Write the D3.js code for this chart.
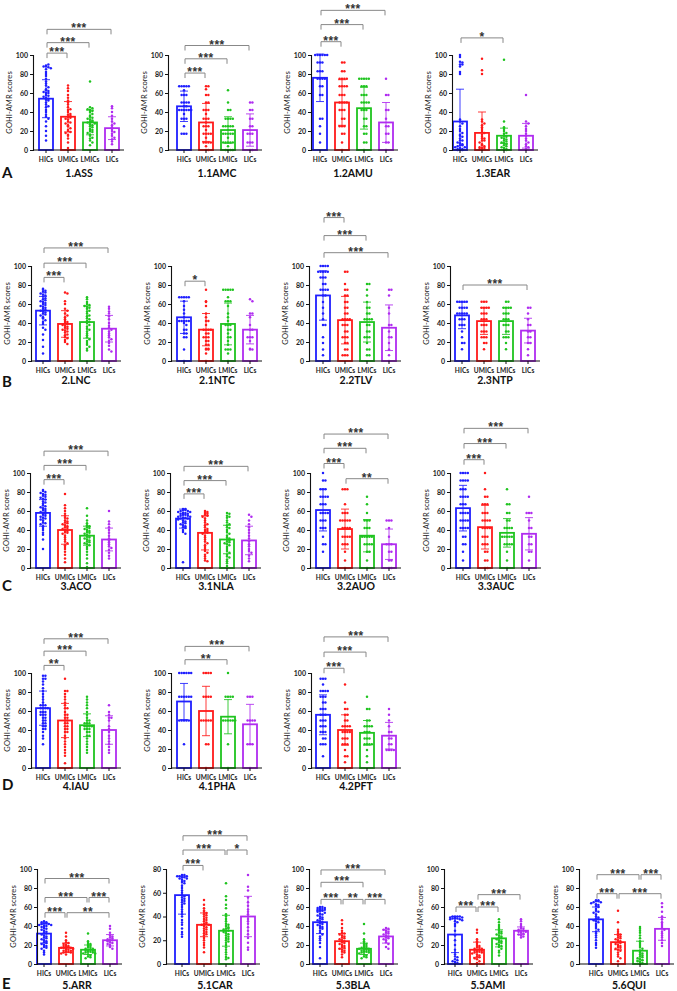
<!DOCTYPE html>
<html><head><meta charset="utf-8">
<script src="https://cdn.jsdelivr.net/npm/d3@7"></script>
<style>body{margin:0;background:#fff}svg{display:block}</style>
</head><body><svg id="c" width="677" height="991"></svg>
<script>
const titles = ["1.ASS","1.1AMC","1.2AMU","1.3EAR","2.LNC","2.1NTC","2.2TLV","2.3NTP","3.ACO","3.1NLA","3.2AUO","3.3AUC","4.IAU","4.1PHA","4.2PFT","5.ARR","5.1CAR","5.3BLA","5.5AMI","5.6QUI"];
const groups = ["HICs","UMICs","LMICs","LICs"];
const colors = ["#1f1fff","#ff1a1a","#1fc41f","#b02cf0"];
const rowLetters = ["A","B","C","D","E"];
const yTicks100 = [0,20,40,60,80,100];
const yTicks80 = [0,20,40,60,80];
const yMax = [100,100,100,100,100,100,100,100,100,100,100,100,100,100,100,100,80,100,100,100];
const means = [[54,35,29,23],[46,29,21,21],[76,50,44,29],[30,18,15,15],[53,39,41,34],[46,33,39,33],[69,43,41,35],[48,42,42,32],[58,40,34,30],[52,37,30,29],[61,41,34,25],[63,43,37,36],[63,50,45,40],[70,60,54,46],[56,40,37,34],[32,17,15,25],[58,33,28,40],[44,24,16,29],[31,15,27,35],[47,23,14,37]];
const sds = [[20,16,13,12],[16,20,14,17],[25,24,22,21],[34,22,8,13],[15,14,17,14],[17,17,22,15],[26,25,21,24],[14,14,14,13],[14,15,10,12],[10,18,15,15],[22,21,17,16],[24,23,15,17],[18,18,12,15],[19,26,18,21],[21,16,13,14],[10,5,5,6],[16,10,13,17],[12,8,6,7],[19,8,9,4],[13,8,10,12]];
const ptsHICs = [
[89,88,87,88,90,86,85,82,80,78,75,72,70,68,66,64,63,62,61,60,60,58,57,56,55,54,53,52,50,48,46,45,42,40,37,35,33,30,25,20,15,10],
[67,67,67,67,67,63,58,58,58,50,50,50,50,46,46,42,42,42,42,42,42,38,33,33,33,25,17,17,17],
[100,100,100,100,100,100,92,92,92,83,83,83,75,75,75,75,67,67,58,58,33,33,25,17,8],
[100,98,93,92,90,90,88,82,80,32,30,28,25,22,20,18,16,15,14,12,10,10,8,7,6,5,5,4,3,3,2,1,1,0,0,0],
[76,75,74,73,72,71,70,69,68,66,65,64,63,62,61,60,59,58,57,56,55,54,53,52,51,50,49,48,46,45,43,41,39,35,33,28,22,15,8],
[67,67,67,67,67,63,58,54,50,46,42,42,42,42,42,40,38,33,33,29,29,25,25,12,0],
[100,100,100,100,94,94,94,94,94,88,88,88,81,81,75,75,75,75,69,69,62,56,50,44,38,38,25,19,12,6],
[62.5,62.5,62.5,62.5,62.5,56,56,56,56,50,50,50,50,50,44,44,44,38,38,38,31,25,19,19,12.5],
[82,81,80,79,78,77,76,75,74,73,72,70,69,68,66,65,64,63,62,61,60,59,58,57,56,55,54,53,52,51,50,48,47,46,44,42,40,37,35,30,20],
[62,62,61,61,60,60,59,59,58,58,57,57,56,56,55,55,54,54,53,53,52,52,51,50,49,48,47,46,45,44,43,42,40,38,36,6],
[100,92,92,83,83,83,75,75,75,75,67,67,67,58,58,58,58,50,50,50,42,42,42,33,25,25,17],
[100,100,100,100,92,92,92,92,83,83,83,75,75,75,75,67,67,67,58,58,58,58,50,50,50,50,42,42,42,42,33,33,25,25,17,8],
[97,97,94,94,91,88,84,81,78,75,72,69,66,66,66,63,63,63,63,59,59,59,56,56,56,53,53,50,50,47,47,44,44,41,41,38,34,31,25],
[100,100,100,100,100,100,75,75,75,75,75,75,50,50,50,50,50,25],
[94,94,94,88,81,81,81,81,75,75,75,69,69,62,62,62,56,56,56,50,50,50,44,44,44,38,38,38,31,31,25,25,25,12.5],
[45,44,44,43,43,42,42,41,41,40,40,39,38,37,36,35,34,33,32,31,30,29,28,27,26,25,24,23,22,21,20,19,18,17,16,14,12,10],
[75,75,74,74,74,73,73,72,72,71,70,69,68,66,64,62,60,58,57,56,55,54,53,52,51,50,48,46,44,42,40,37,35,33,30,27,25,23],
[60,60,59,59,58,58,57,57,56,56,55,54,53,52,51,50,49,48,47,46,45,44,43,42,41,40,39,38,37,35,33,31,29,27,25,22,18,6],
[50,50,50,50,49,49,49,48,48,48,47,47,46,45,44,42,40,35,30,25,20,15,12,10,8,7,5,4,3,2,1,0],
[67,67,66,66,65,65,64,63,62,61,60,58,56,55,54,52,50,49,48,47,46,45,44,42,40,38,36,34,32,30,28,25,22,20,17]
];
const ptsUMICs = [
[68,65,62,58,55,52,50,48,45,43,42,40,38,37,36,35,34,33,32,30,29,28,26,25,23,21,20,19,18,16,15,12,8,2],
[67,67,64,58,58,50,50,42,42,42,38,33,33,33,29,25,25,25,21,17,17,17,17,13,8,8,8,8,4,0,0],
[92,92,83,83,75,75,75,75,67,67,67,67,58,58,58,50,50,50,50,42,42,42,33,33,25,25,25,17,17,8,0],
[96,84,80,32,30,28,26,24,22,20,18,16,14,12,12,10,10,8,6,5,4,3,2,2,1,0],
[72,71,63,60,55,53,50,48,46,44,42,41,40,39,38,37,36,35,34,33,32,31,30,28,27,25,24,22,20,18],
[75,63,62,58,50,46,42,42,38,33,33,33,33,29,29,25,25,25,21,21,17,17,13,13,12,12,8,0],
[94,94,81,75,75,69,69,62,62,56,56,50,50,44,44,44,44,38,38,38,31,31,25,25,25,19,19,12,12,6,6,6],
[62.5,62.5,62.5,56,56,56,56,50,50,50,44,44,44,38,38,38,31,31,31,25,25,25,19,19,12.5],
[78,66,63,60,57,55,53,52,50,49,48,47,46,45,44,43,42,41,40,39,38,37,36,34,32,30,28,26,24,22,20,17,14,10,6],
[60,59,58,57,56,55,54,52,50,48,46,45,43,41,40,39,38,37,36,34,32,30,28,26,24,22,20,18,16,14,12,10,8,7],
[83,83,83,67,58,58,58,50,50,50,50,50,42,42,42,42,33,33,33,33,25,25,25,17,8,0],
[100,83,75,75,67,67,67,58,58,58,50,50,50,50,42,42,42,42,33,33,33,25,25,25,17,17,8,8,0,0],
[94,81,81,78,75,72,69,66,63,63,59,56,56,53,53,50,50,47,47,44,44,41,41,38,38,34,31,28,25,22,19,16,13,5],
[100,100,100,100,75,75,75,75,50,50,50,50,50,25,25,0],
[88,69,62,62,56,56,50,50,44,44,44,44,38,38,38,38,31,31,31,25,25,25,19,12.5,12.5,6],
[33,29,25,23,22,21,20,19,19,18,18,17,17,17,16,16,15,15,14,14,13,13,12,12,11,10],
[54,50,47,45,44,43,42,41,40,39,38,37,36,35,34,34,33,33,32,31,30,29,28,27,26,25,24,22,20,18,16,14,10],
[46,42,38,35,33,32,31,30,29,28,27,26,25,24,23,22,21,20,19,18,17,16,15,14,13,12,10,7],
[36,33,26,24,22,20,19,18,17,16,16,15,15,14,14,13,13,12,12,11,10,9,8,7,6,5,3,1],
[56,44,36,34,32,31,30,29,28,27,26,25,24,23,22,21,20,19,18,17,16,15,14,12,10,8,6,3]
];
const ptsLMICs = [
[72,45,44,43,42,41,40,38,36,35,34,33,32,31,30,30,29,28,27,26,25,24,22,21,20,19,18,16,15,13,12,10,8,5],
[63,50,42,42,33,33,33,33,25,25,25,25,25,21,17,17,17,17,17,13,8,8,8,8,8,4,0,0,0,0],
[75,75,75,75,75,67,67,67,58,58,58,50,50,50,50,42,42,42,33,33,25,25,17,17,8,8,0],
[95,30,24,22,20,18,17,15,14,13,12,11,10,9,8,7,6,5,4,3,2,1,0,0],
[67,65,62,60,59,58,57,56,55,53,52,50,48,47,45,44,42,41,40,38,36,34,33,31,29,27,25,23,21,19,17,15,13,11],
[75,75,75,75,75,67,63,63,63,58,50,46,42,38,38,38,33,33,29,25,25,21,17,12,12,12,8,0],
[81,81,75,69,62,56,56,50,50,44,44,44,44,38,38,31,31,25,25,25,19,12,12,6,6],
[62.5,62.5,56,56,56,56,50,50,50,44,44,44,38,38,38,31,31,25,25,25,19,12.5],
[63,55,50,47,45,44,43,42,41,40,39,38,37,36,35,34,33,32,31,30,29,28,27,26,25,24,22,20,17,14,10,5,1],
[58,57,55,54,53,50,48,46,45,43,42,40,38,36,34,32,31,30,29,28,27,26,25,24,22,20,18,16,14,12,11,9,7,5,2],
[75,67,58,50,50,50,42,42,42,33,33,33,33,33,25,25,25,25,17,17,8,0],
[83,67,67,58,58,50,50,42,42,42,42,33,33,33,33,33,25,25,25,25,17,8,0],
[75,72,69,66,63,59,56,53,50,50,47,47,47,44,44,44,44,41,41,41,38,38,34,34,31,28,25,22,19,16],
[100,75,75,75,75,50,50,50,50,50,50,25,0],
[75,62,62,50,50,44,44,44,44,38,38,38,31,31,31,25,25,25,25,19,12.5,6],
[32,24,22,21,20,19,18,17,16,16,15,15,14,14,13,13,12,12,11,11,10,9,8,7,6],
[68,57,54,50,47,42,40,38,36,34,33,32,31,30,30,29,28,28,27,26,25,24,23,22,21,20,19,18,16,14,12,10,8,6,5,4],
[42,32,26,24,22,21,20,19,18,17,17,16,16,15,15,14,14,13,13,12,12,11,10,9,8,7,6],
[47,44,41,39,37,35,34,33,32,31,30,29,28,27,26,25,24,23,22,21,20,19,18,16,14,12,9],
[39,37,35,33,30,27,24,22,20,18,16,14,12,11,10,9,8,7,6,5,4,3,2,1,0]
];
const ptsLICs = [
[46,44,40,36,33,30,28,26,24,22,20,19,17,15,13,11,9,6],
[50,50,42,42,33,33,25,25,17,17,17,8,8,8,0,0],
[75,58,58,42,42,33,25,25,17,17,8,8,0],
[58,30,28,25,22,20,17,15,12,10,8,6,4,3,1,0],
[57,55,52,50,47,44,40,37,35,33,31,29,27,25,23,21,19,16,12,10],
[65,63,50,50,46,38,33,33,25,25,25,21,13,12,12],
[75,75,69,56,50,38,38,31,25,25,19,12,6,0],
[56,56,50,44,38,38,31,31,25,25,19,19,12.5,6],
[60,49,46,43,40,37,34,31,29,27,25,23,21,19,16,13,10],
[56,54,50,46,43,40,37,34,31,28,25,23,20,18,16,13,10,7],
[50,50,50,42,33,25,25,25,17,17,8,8,0,0],
[75,58,58,58,50,42,42,33,33,25,25,17,17,8],
[66,59,56,53,53,50,44,41,38,34,31,28,25,22,19,16],
[75,75,75,50,50,50,50,25,25,25,0],
[62,56,50,44,38,38,31,31,25,25,19,19,19,19],
[40,37,33,30,29,28,27,26,25,25,24,23,22,21,20,18,16],
[75,65,62,56,52,49,46,44,42,40,38,36,34,31,28,25,22,18,14,12],
[38,37,36,35,34,33,32,31,30,29,28,27,26,25,23,21,18,16],
[47,45,42,40,38,37,36,35,35,34,34,33,32,31,30,29,28],
[64,60,55,50,47,44,42,40,38,36,34,32,30,28,25,22,19]
];
// [from group, to group, height (axis units), label]
const brackets = [
[[0,1,102,"***"],[0,2,113,"***"],[0,3,127,"***"]],
[[0,1,81,"***"],[0,2,96,"***"],[0,3,110,"***"]],
[[0,1,114,"***"],[0,2,132,"***"],[0,3,147,"***"]],
[[0,2,118,"*"]],
[[0,1,88,"***"],[0,2,103,"***"],[0,3,119,"***"]],
[[0,1,84,"*"]],
[[0,1,151,"***"],[0,2,132,"***"],[0,3,114,"***"]],
[[0,3,80,"***"]],
[[0,1,93,"***"],[0,2,108,"***"],[0,3,123,"***"]],
[[0,1,78,"***"],[0,2,92,"***"],[0,3,107,"***"]],
[[0,1,110,"***"],[0,2,126,"***"],[0,3,141,"***"],[1,3,94,"**"]],
[[0,1,114,"***"],[0,2,131,"***"],[0,3,147,"***"]],
[[0,1,108,"**"],[0,2,123,"***"],[0,3,136,"***"]],
[[0,2,114,"**"],[0,3,128,"***"]],
[[0,1,105,"***"],[0,2,122,"***"],[0,3,138,"***"]],
[[0,1,54,"***"],[1,3,54,"**"],[0,2,70,"***"],[2,3,70,"***"],[0,3,90,"***"]],
[[0,1,83,"***"],[0,2,96,"***"],[2,3,96,"*"],[0,3,108,"***"]],
[[0,1,68,"***"],[1,2,68,"**"],[2,3,68,"***"],[0,2,86,"***"],[0,3,99,"***"]],
[[0,1,60,"***"],[1,2,60,"***"],[1,3,73,"***"]],
[[0,2,94,"***"],[2,3,94,"***"],[0,1,74,"***"],[1,3,74,"***"]]
];

// ---- layout ----
const rowY0 = [150,361,568,768,964];
const rowTitleY = [177,384,590,790,989];
const rowLetterY = [178,387,591,790,989];
const rowOf = [0,0,0,0,1,1,1,1,2,2,2,2,3,3,3,4,4,4,4,4];
const axisXs = [33,168,311,452, 31,171,309,450, 30,170,310,450, 31,171,311, 37,166,309,444,579];
const firstCs = [46,184,320,460, 43,184,323,462, 43,183,323,463, 43,184,323, 44,182,320,455,596];
const PH = 95, STEP = 22, BW = 14;
const FONT = "Lato, 'Open Sans', Arial, sans-serif";
const STARFONT = "'Liberation Sans', Arial, sans-serif";
const allPts = [ptsHICs, ptsUMICs, ptsLMICs, ptsLICs];

const svg = d3.select("#c");
svg.append("rect").attr("width",677).attr("height",991).attr("fill","#fff");

rowLetters.forEach((L,r)=>{
  svg.append("text").attr("x",2).attr("y",rowLetterY[r]).text(L)
    .attr("font-family",FONT).attr("font-weight","bold").attr("font-size",15).attr("fill","#111");
});

titles.forEach((t,p)=>{
  const r = rowOf[p], y0 = rowY0[r], ax = axisXs[p], fc = firstCs[p];
  const g = svg.append("g");
  const x = d3.scalePoint().domain(groups).range([fc, fc+3*STEP]);
  const y = d3.scaleLinear().domain([0,yMax[p]]).range([y0, y0-PH]);
  const xEnd = fc+3*STEP+12;

  groups.forEach((gname,i)=>{
    const m = means[p][i];
    g.append("rect").attr("x",x(gname)-BW/2).attr("y",y(m)).attr("width",BW).attr("height",y0-y(m))
      .attr("fill","#fff").attr("stroke",colors[i]).attr("stroke-width",1.8);
  });
  groups.forEach((gname,i)=>{
    const vals = allPts[i][p];
    const bins = new Map();
    vals.forEach(v=>{
      const py = y(v);
      const key = Math.round(py/2.4);
      const k = bins.get(key)||0; bins.set(key,k+1);
      const kk = k % 6;
      const off = (kk===0?0:(kk%2?1:-1)*Math.ceil(kk/2)*2.4);
      g.append("circle").attr("cx",x(gname)+off).attr("cy",py).attr("r",1.25).attr("fill",colors[i]);
    });
  });
  groups.forEach((gname,i)=>{
    const m = means[p][i], s = sds[p][i];
    const top = y(Math.min(m+s, yMax[p]*1.2)), bot = y(Math.max(m-s,0));
    const cx = x(gname);
    g.append("line").attr("x1",cx).attr("x2",cx).attr("y1",top).attr("y2",bot).attr("stroke",colors[i]).attr("stroke-width",1).attr("opacity",0.85);
    [top,bot].forEach(yy=>g.append("line").attr("x1",cx-4).attr("x2",cx+4).attr("y1",yy).attr("y2",yy).attr("stroke",colors[i]).attr("stroke-width",1).attr("opacity",0.85));
  });
  const yt = yMax[p]===80 ? yTicks80 : yTicks100;
  const yAxis = d3.axisLeft(y).tickValues(yt).tickSize(3).tickPadding(2);
  const ya = g.append("g").attr("transform",`translate(${ax},0)`).call(yAxis);
  ya.select(".domain").attr("stroke","#111").attr("stroke-width",1.1);
  ya.selectAll(".tick line").attr("stroke","#111");
  ya.selectAll("text").attr("font-family",FONT).attr("font-weight","bold").attr("font-size",7).attr("fill","#222");
  const xa = g.append("g").attr("transform",`translate(0,${y0})`);
  xa.append("line").attr("x1",ax).attr("x2",xEnd).attr("y1",0).attr("y2",0).attr("stroke","#111").attr("stroke-width",1.1);
  groups.forEach(gname=>{
    xa.append("line").attr("x1",x(gname)).attr("x2",x(gname)).attr("y1",0).attr("y2",3).attr("stroke","#111");
    xa.append("text").attr("x",x(gname)).attr("y",12).attr("text-anchor","middle").text(gname)
      .attr("font-family",FONT).attr("font-weight","bold").attr("font-size",6.6).attr("fill","#222");
  });
  g.append("text").attr("transform",`translate(${ax-21},${y0-PH/2}) rotate(-90)`).attr("text-anchor","middle")
    .text("GOHI-AMR scores").attr("font-family",FONT).attr("font-size",7.6).attr("fill","#222");
  g.append("text").attr("x",(fc+fc+3*STEP)/2).attr("y",rowTitleY[r]).attr("text-anchor","middle").text(t)
    .attr("font-family",FONT).attr("font-weight","bold").attr("font-size",10.5).attr("fill","#111");
  brackets[p].forEach(([a,b,h,lab])=>{
    const xa1 = x(groups[a])+1, xb1 = x(groups[b])-1, yy = y(h);
    g.append("path").attr("d",`M${xa1},${yy+5}V${yy}H${xb1}V${yy+5}`).attr("fill","none").attr("stroke","#888").attr("stroke-width",1);
    g.append("text").attr("x",(xa1+xb1)/2).attr("y",yy+3).attr("text-anchor","middle").text(lab)
      .attr("font-family",STARFONT).attr("font-weight","bold").attr("font-size",12).attr("letter-spacing",0.5).attr("fill","#333");
  });
});
</script></body></html>
